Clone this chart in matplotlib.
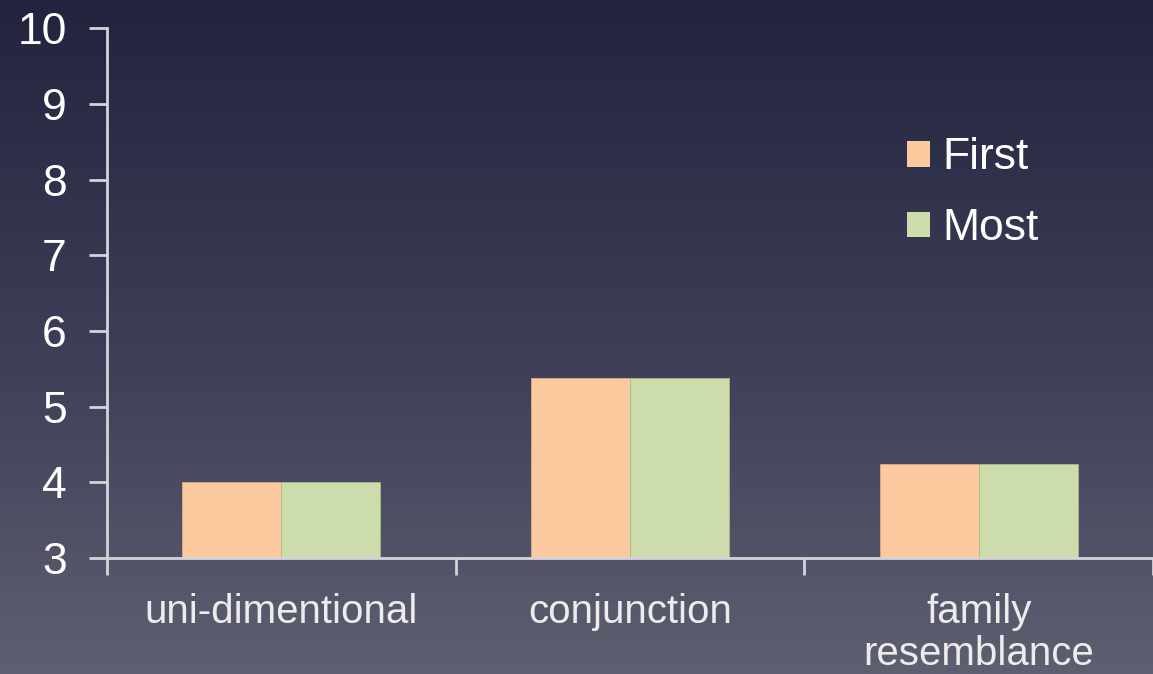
import matplotlib
matplotlib.use("Agg")
import matplotlib.pyplot as plt
import numpy as np
from matplotlib.patches import Patch
from matplotlib.colors import LinearSegmentedColormap

categories = ["uni-dimentional", "conjunction", "family\nresemblance"]
first = [4.0, 5.38, 4.24]
most = [4.0, 5.38, 4.24]
series = ["First", "Most"]
yticks = [3, 4, 5, 6, 7, 8, 9, 10]

plt.rcParams["font.family"] = ["Liberation Sans", "DejaVu Sans"]

fig = plt.figure(figsize=(11.53, 6.74), dpi=100)

# background gradient: dark navy at top to grey at bottom
bg = fig.add_axes([0, 0, 1, 1], zorder=-1)
grad = np.linspace(0, 1, 256).reshape(-1, 1)
cmap = LinearSegmentedColormap.from_list("bg", ["#22243f", "#3c3d56", "#5e5f70"])
bg.imshow(grad, aspect="auto", cmap=cmap, extent=[0, 1, 0, 1], origin="upper")
bg.axis("off")

ax = fig.add_axes([0.0928, 0.172, 0.9072, 0.786])
ax.patch.set_alpha(0)

x = np.arange(len(categories))
w = 0.284
c_first = "#fbcb9f"
c_most = "#ccdcab"
ax.bar(x - w / 2, first, w, color=c_first, edgecolor="#d9ad8a", linewidth=0.6, zorder=2)
ax.bar(x + w / 2, most, w, color=c_most, edgecolor="#a9b890", linewidth=0.6, zorder=2)

ax.set_ylim(3, 10)
ax.set_xlim(-0.5, 2.5)
ax.set_yticks(yticks)
ax.set_yticklabels([str(t) for t in yticks])

ax.set_xticks([-0.5, 0.5, 1.5, 2.5])
ax.set_xticklabels([])
ax.set_xticks(x, minor=True)
ax.set_xticklabels(categories, minor=True)

axis_c = "#d4d4d8"
for s in ["top", "right"]:
    ax.spines[s].set_visible(False)
for s in ["left", "bottom"]:
    ax.spines[s].set_color(axis_c)
    ax.spines[s].set_linewidth(2)

ax.tick_params(axis="y", which="major", direction="out", length=13, width=2,
               color=axis_c, labelcolor="white", labelsize=32, pad=16)
ax.tick_params(axis="x", which="major", direction="out", length=12, width=2,
               color=axis_c)
ax.tick_params(axis="x", which="minor", length=0, labelcolor="#ececec",
               labelsize=29, pad=25)
for lab in ax.get_xticklabels(minor=True):
    lab.set_linespacing(1.15)
    lab.set_verticalalignment("top")

handles = [Patch(facecolor=c_first, edgecolor="none"), Patch(facecolor=c_most, edgecolor="none")]
leg = ax.legend(handles, series, loc="upper left", bbox_to_anchor=(0.765, 0.794),
                frameon=False, fontsize=32, handlelength=0.52, handleheight=0.52,
                handletextpad=0.27, labelspacing=0.67, borderaxespad=0, borderpad=0)
for t in leg.get_texts():
    t.set_color("white")

fig.savefig("out.png", dpi=100)
